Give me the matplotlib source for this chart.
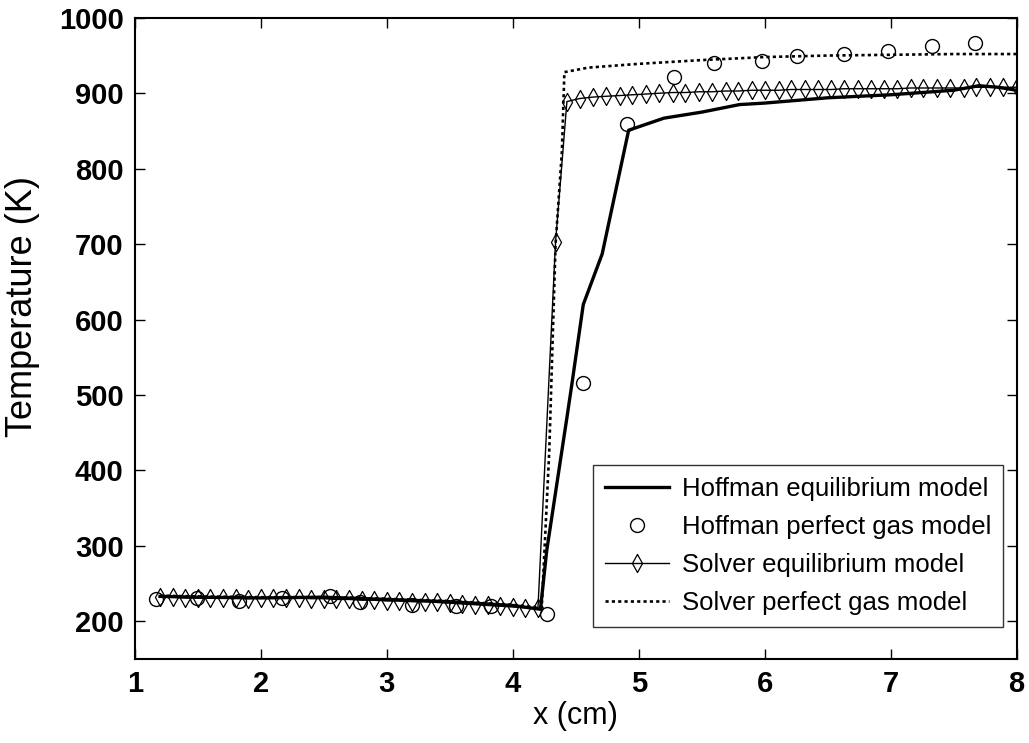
import matplotlib
matplotlib.use("Agg")
import matplotlib.pyplot as plt

# Hoffman equilibrium model (solid thick line)
hoff_eq_x = [1.2, 1.5, 2.0, 2.5, 3.0, 3.5, 4.0, 4.22, 4.27, 4.43, 4.47, 4.56,
             4.71, 4.92, 5.2, 5.5, 5.8, 6.0, 6.5, 7.0, 7.5, 7.7, 7.85, 8.0]
hoff_eq_T = [233, 232, 231, 232, 229, 226, 221, 216, 294, 470, 515, 620,
             687, 851, 867, 875, 885, 887, 894, 898, 904, 910, 908, 904]

# Hoffman perfect gas model (open circles)
hoff_pg_x = [1.17, 1.49, 1.83, 2.17, 2.55, 2.79, 3.2, 3.55, 3.83, 4.27,
             4.56, 4.91, 5.28, 5.6, 5.98, 6.26, 6.63, 6.98, 7.33, 7.67]
hoff_pg_T = [230, 231, 227, 231, 233, 225, 222, 220, 220, 210,
             516, 859, 922, 940, 943, 950, 952, 956, 962, 967]

# Solver equilibrium model (thin line with diamonds)
solv_eq_x = [1.2, 1.3, 1.4, 1.5, 1.6, 1.7, 1.8, 1.9, 2.0, 2.1, 2.2, 2.3, 2.4,
             2.5, 2.6, 2.7, 2.8, 2.9, 3.0, 3.1, 3.2, 3.3, 3.4, 3.5, 3.6, 3.7,
             3.8, 3.9, 4.0, 4.1, 4.2, 4.34,
             4.43, 4.53, 4.64, 4.74, 4.85, 4.95, 5.06, 5.16, 5.27, 5.37, 5.48,
             5.58, 5.69, 5.79, 5.90, 6.00, 6.11, 6.21, 6.32, 6.42, 6.53, 6.63,
             6.74, 6.84, 6.95, 7.05, 7.16, 7.26, 7.37, 7.47, 7.58, 7.68, 7.79,
             7.89, 8.00]
solv_eq_T = [232, 232, 231, 231, 231, 231, 231, 230, 231, 231, 231, 231, 230,
             230, 229, 229, 228, 228, 227, 227, 226, 226, 225, 224, 223, 222,
             221, 220, 219, 218, 217, 703,
             889, 893, 895, 896, 897, 898, 899, 900, 901, 901, 902, 902, 903,
             903, 904, 904, 904, 905, 905, 905, 905, 906, 906, 906, 906, 906,
             907, 907, 907, 907, 907, 908, 908, 908, 908]

# Solver perfect gas model (dotted line)
solv_pg_x = [1.2, 1.5, 2.0, 2.5, 3.0, 3.5, 4.0, 4.23, 4.29, 4.34, 4.39, 4.41,
             4.6, 5.0, 5.5, 6.0, 6.5, 7.0, 7.5, 8.0]
solv_pg_T = [234, 233, 232, 232, 230, 227, 222, 218, 426, 700, 822, 928,
             934, 939, 944, 948, 950, 951, 952, 952]

xticks = [1, 2, 3, 4, 5, 6, 7, 8]
yticks = [200, 300, 400, 500, 600, 700, 800, 900, 1000]

plt.rcParams['font.family'] = ['Liberation Sans', 'DejaVu Sans']

# tall diamond marker
tall_diamond = [(0, -1), (0.56, 0), (0, 1), (-0.56, 0), (0, -1)]

fig = plt.figure(figsize=(10.29, 7.43), dpi=100)
ax = fig.add_axes([0.131, 0.113, 0.857, 0.863])

ax.plot(hoff_eq_x, hoff_eq_T, '-', color='black', lw=2.4,
        label='Hoffman equilibrium model')
ax.plot(hoff_pg_x, hoff_pg_T, 'o', color='black', mfc='none', ms=10, mew=1.0,
        label='Hoffman perfect gas model')
ax.plot(solv_eq_x, solv_eq_T, '-', color='black', lw=1.0, marker=tall_diamond,
        mfc='none', ms=13, mew=0.9, label='Solver equilibrium model')
ax.plot(solv_pg_x, solv_pg_T, color='black', lw=1.9, linestyle=(0, (1.2, 1.2)),
        label='Solver perfect gas model')

ax.set_xlim(1, 8)
ax.set_ylim(150, 1000)
ax.set_xticks(xticks)
ax.set_yticks(yticks)
ax.tick_params(direction='in', length=7, width=1.0, top=True, right=True,
               labelsize=21, pad=8)
for lab in ax.get_xticklabels() + ax.get_yticklabels():
    lab.set_fontweight('bold')
for s in ax.spines.values():
    s.set_linewidth(1.5)

ax.set_xlabel('x (cm)', fontsize=22, labelpad=2)
ax.set_ylabel('Temperature (K)', fontsize=26)
ax.yaxis.set_label_coords(-0.108, 0.55)

leg = ax.legend(loc='lower right', bbox_to_anchor=(0.984, 0.05), borderaxespad=0,
                fontsize=18.5, frameon=True, fancybox=False, edgecolor='black',
                handlelength=2.5, borderpad=0.45, labelspacing=0.55,
                handletextpad=0.5)
leg.get_frame().set_linewidth(1.0)

fig.savefig('out.png', dpi=100)
